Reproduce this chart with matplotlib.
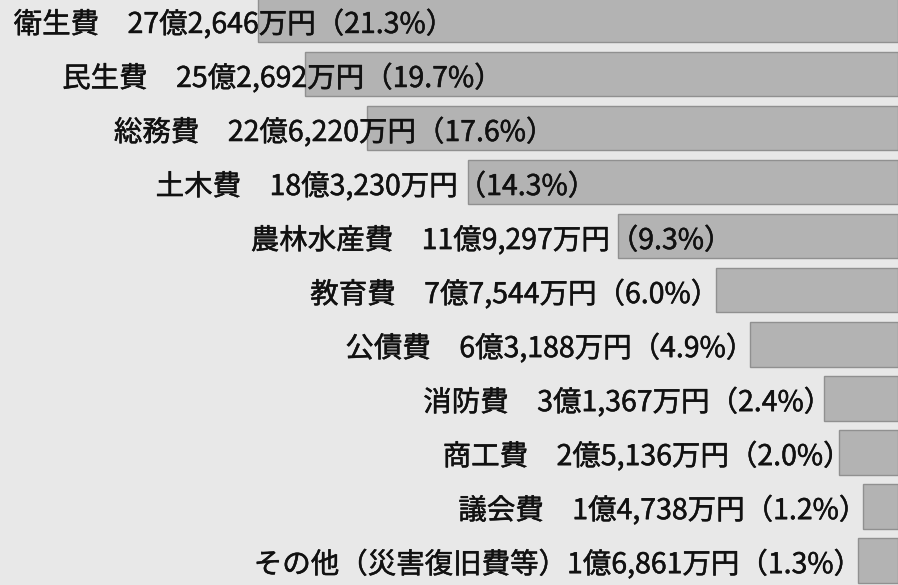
import matplotlib
matplotlib.use('Agg')
import matplotlib.pyplot as plt
import matplotlib.patheffects as pe
from matplotlib.transforms import offset_copy

# 歳出内訳（万円）
names = ['衛生費', '民生費', '総務費', '土木費', '農林水産費', '教育費',
         '公債費', '消防費', '商工費', '議会費', 'その他（災害復旧費等）']
amounts = [272646, 252692, 226220, 183230, 119297, 77544,
           63188, 31367, 25136, 14738, 16861]
shares = [21.3, 19.7, 17.6, 14.3, 9.3, 6.0, 4.9, 2.4, 2.0, 1.2, 1.3]

# where each label ends (right edge), in the same units as the bars
label_end = [197300, 176800, 154700, 136800, 78800, 84400,
             69500, 36200, 28100, 21300, 23400]

plt.rcParams['font.family'] = ['Noto Sans CJK JP', 'DejaVu Sans']

bg = '#e8e8e8'
fig = plt.figure(figsize=(8.98, 5.85), dpi=100)
fig.patch.set_facecolor(bg)
ax = fig.add_axes([0, 0, 1, 1])

rows = range(len(names))
ax.barh(rows, amounts, height=0.83, color='#b3b3b3',
        edgecolor='#909090', linewidth=1)

def yen(v):
    return '{}億{:,}万円'.format(v // 10000, v % 10000)

# full-width ）has empty space on its right, push the text over by that much
txt_trans = offset_copy(ax.transData, fig=fig, x=20, y=-5, units='dots')

for i in rows:
    gap = '' if names[i].endswith('）') else '　'
    label = '{}{}{}（{}%）'.format(names[i], gap, yen(amounts[i]), shares[i])
    ax.text(label_end[i], i, label, ha='right', va='center',
            fontsize=20.5, color='#111111', transform=txt_trans,
            path_effects=[pe.withStroke(linewidth=0.35, foreground='#111111')])

# bars grow from the right edge
ax.set_xlim(382600, 0)
ax.set_ylim(10.46, -0.37)
ax.axis('off')

fig.savefig('out.png', dpi=100, facecolor=fig.get_facecolor())
